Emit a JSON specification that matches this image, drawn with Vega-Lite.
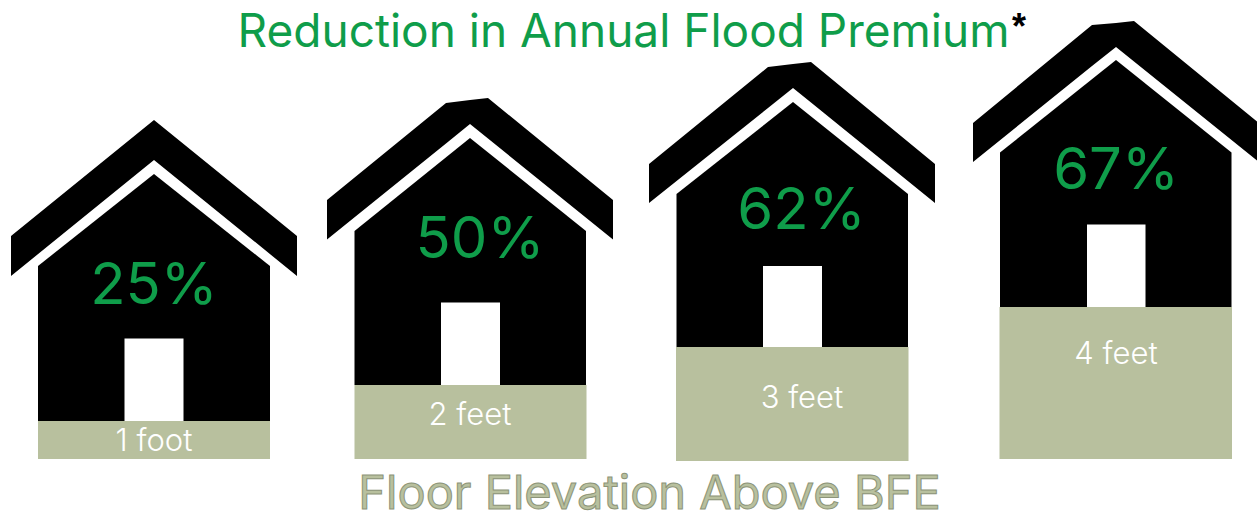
{"$schema":"https://vega.github.io/schema/vega-lite/v6.json","width":1257,"height":516,"padding":0,"autosize":{"type":"pad"},"background":"white","view":{"stroke":null},
"datasets":{
"body":[
{"house":"1 foot","x":38,"top":266,"bottom":421},{"house":"1 foot","x":154,"top":174,"bottom":421},{"house":"1 foot","x":270,"top":266,"bottom":421},
{"house":"2 feet","x":354.5,"top":231,"bottom":385},{"house":"2 feet","x":470,"top":138,"bottom":385},{"house":"2 feet","x":586,"top":231,"bottom":385},
{"house":"3 feet","x":676.5,"top":194,"bottom":347},{"house":"3 feet","x":793,"top":102,"bottom":347},{"house":"3 feet","x":908,"top":194,"bottom":347},
{"house":"4 feet","x":1000,"top":152.5,"bottom":307},{"house":"4 feet","x":1116,"top":60,"bottom":307},{"house":"4 feet","x":1231.5,"top":152.5,"bottom":307}],
"roof":[
{"house":"1 foot","x":11,"top":236,"bottom":276},{"house":"1 foot","x":154,"top":120,"bottom":160},{"house":"1 foot","x":297,"top":236,"bottom":276},
{"house":"2 feet","x":327,"top":200,"bottom":239.5},{"house":"2 feet","x":446,"top":103,"bottom":143.5},{"house":"2 feet","x":470,"top":100,"bottom":124},{"house":"2 feet","x":488,"top":98,"bottom":138.5},{"house":"2 feet","x":613,"top":200,"bottom":239.5},
{"house":"3 feet","x":649,"top":164,"bottom":203},{"house":"3 feet","x":768,"top":67,"bottom":108},{"house":"3 feet","x":793,"top":64,"bottom":88},{"house":"3 feet","x":811,"top":62,"bottom":102.5},{"house":"3 feet","x":935,"top":164,"bottom":203},
{"house":"4 feet","x":973,"top":123,"bottom":162},{"house":"4 feet","x":1092,"top":25,"bottom":66},{"house":"4 feet","x":1116,"top":23,"bottom":47},{"house":"4 feet","x":1134,"top":21,"bottom":61.5},{"house":"4 feet","x":1257,"top":121.5,"bottom":160.5}],
"ground":[
{"house":"1 foot","x":38,"x2":270,"top":421,"bottom":459},
{"house":"2 feet","x":354.5,"x2":586.5,"top":385,"bottom":459},
{"house":"3 feet","x":676,"x2":908.5,"top":347,"bottom":461},
{"house":"4 feet","x":999.5,"x2":1232,"top":307,"bottom":459}],
"door":[
{"house":"1 foot","x":124.5,"x2":183.5,"top":338.5,"bottom":421},
{"house":"2 feet","x":441,"x2":500,"top":302.5,"bottom":385},
{"house":"3 feet","x":763,"x2":822,"top":266,"bottom":347},
{"house":"4 feet","x":1087,"x2":1145.5,"top":224.5,"bottom":307}],
"reduction":[
{"label":"25%","x":154,"y":287},{"label":"50%","x":480,"y":241},{"label":"62%","x":801.5,"y":212},{"label":"67%","x":1116,"y":172}],
"elevation":[
{"label":"1 foot","x":154,"y":442},{"label":"2 feet","x":470,"y":416},{"label":"3 feet","x":802,"y":399},{"label":"4 feet","x":1116,"y":355}],
"title":[{"label":"Reduction in Annual Flood Premium","x":623.5,"y":33}],
"star":[{"label":"*","x":1019,"y":28}],
"subtitle":[{"label":"Floor Elevation Above BFE","x":649.5,"y":509}]
},
"encoding":{
"x":{"field":"x","type":"quantitative","scale":{"domain":[0,1257],"nice":false,"zero":false},"axis":null},
"y":{"field":"y","type":"quantitative","scale":{"domain":[516,0],"nice":false,"zero":false},"axis":null}
},
"layer":[
{"data":{"name":"body"},"mark":{"type":"area","color":"#000000","orient":"vertical"},"encoding":{"detail":{"field":"house"},"y":{"field":"top","type":"quantitative","stack":null,"scale":{"domain":[516,0],"nice":false,"zero":false},"axis":null},"y2":{"field":"bottom"}}},
{"data":{"name":"roof"},"mark":{"type":"area","color":"#000000","orient":"vertical"},"encoding":{"detail":{"field":"house"},"y":{"field":"top","type":"quantitative","stack":null,"scale":{"domain":[516,0],"nice":false,"zero":false},"axis":null},"y2":{"field":"bottom"}}},
{"data":{"name":"ground"},"mark":{"type":"rect","color":"#b8c09e"},"encoding":{"x2":{"field":"x2"},"y":{"field":"top","type":"quantitative","scale":{"domain":[516,0],"nice":false,"zero":false},"axis":null},"y2":{"field":"bottom"}}},
{"data":{"name":"door"},"mark":{"type":"rect","color":"#ffffff"},"encoding":{"x2":{"field":"x2"},"y":{"field":"top","type":"quantitative","scale":{"domain":[516,0],"nice":false,"zero":false},"axis":null},"y2":{"field":"bottom"}}},
{"data":{"name":"reduction"},"mark":{"type":"text","font":"Inter","fontWeight":400,"fontSize":58,"color":"#0f9d4a","align":"center","baseline":"middle"},"encoding":{"text":{"field":"label"}}},
{"data":{"name":"elevation"},"mark":{"type":"text","font":"Inter","fontWeight":300,"fontSize":31,"color":"#ffffff","align":"center","baseline":"middle"},"encoding":{"text":{"field":"label"}}},
{"data":{"name":"title"},"mark":{"type":"text","font":"Inter","fontWeight":400,"fontSize":46,"color":"#0f9d4a","align":"center","baseline":"middle"},"encoding":{"text":{"field":"label"}}},
{"data":{"name":"star"},"mark":{"type":"text","font":"Liberation Sans","fontWeight":700,"fontSize":36,"color":"#000000","align":"center","baseline":"middle"},"encoding":{"text":{"field":"label"}}},
{"data":{"name":"subtitle"},"mark":{"type":"text","font":"Inter","fontWeight":400,"fontSize":47,"color":"#b8c09e","stroke":"#8c9478","strokeWidth":1,"align":"center","baseline":"alphabetic"},"encoding":{"text":{"field":"label"}}}
]}
